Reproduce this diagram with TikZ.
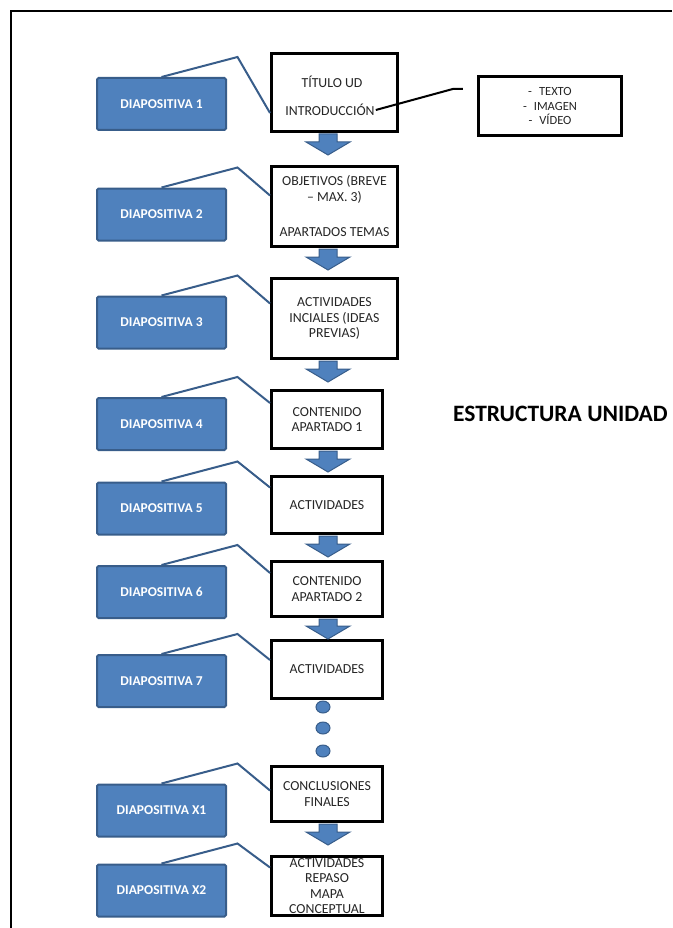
\documentclass[tikz,border=0pt]{standalone}
\usepackage{fontspec}
\setmainfont{Carlito}
\usepackage{tikz}
\usetikzlibrary{positioning,calc}

\definecolor{azul}{HTML}{4F81BD}
\definecolor{azulosc}{HTML}{385D8A}

\tikzset{
	diapo/.style={draw=azulosc, line width=2pt, fill=azul, rounded corners=1.5pt,
		minimum width=129pt, minimum height=52pt, text=white,
		font=\fontsize{13.5}{16}\selectfont\bfseries},
	caja/.style={draw=black, line width=3pt, fill=white, align=center, inner sep=0pt,
		text=black!85, font=\fontsize{13.8}{15.5}\selectfont},
	texto/.style={inner sep=1pt, text=black!85, font=\fontsize{13.8}{15.5}\selectfont},
	bloque/.style={fill=azul, draw=azulosc, line width=1pt},
	llamada/.style={draw=azulosc, line width=2pt},
}

% flecha de bloque entre dos cajas
\newcommand{\flecha}[2]{%
	\path[bloque] let \p1=(#1.south), \p2=(#2.north), \n1={max(\y1-22pt,\y2)} in
		(319pt,\y1-1pt) -- (319pt,\n1*1pt+13pt) -- (306pt,\n1*1pt+13pt)
		-- (328pt,\n1*1pt) -- (350pt,\n1*1pt+13pt) -- (337pt,\n1*1pt+13pt)
		-- (337pt,\y1-1pt) -- cycle;}

\begin{document}
\begin{tikzpicture}[x=1pt,y=-1pt]
	\useasboundingbox (0,0) rectangle (672,928);
	\draw[line width=2.5pt] (672,11) -- (11,11) -- (11,928);

	% cajas de la derecha
	\node[caja, minimum width=126pt, minimum height=78pt] (w1) at (334.5,92.5) {};
	\node[texto] (tit) at (332,82) {TÍTULO UD};
	\node[texto] (intro) at (330,110) {INTRODUCCIÓN};
	\node[caja, minimum width=126pt, minimum height=80pt] (w2) at (334.5,206.5)
		{OBJETIVOS (BREVE\\– MAX. 3)\\[20pt]APARTADOS TEMAS};
	\node[caja, minimum width=126pt, minimum height=80pt] (w3) at (334.5,318.5)
		{ACTIVIDADES\\INCIALES (IDEAS\\PREVIAS)};
	\node[caja, minimum width=111pt, minimum height=58pt] (w4) at (327,419.5) {CONTENIDO\\APARTADO 1};
	\node[caja, minimum width=111pt, minimum height=57pt] (w5) at (327,505) {ACTIVIDADES};
	\node[caja, minimum width=111pt, minimum height=55pt] (w6) at (327,589) {CONTENIDO\\APARTADO 2};
	\node[caja, minimum width=111pt, minimum height=58pt] (w7) at (327,669.5) {ACTIVIDADES};
	\node[caja, minimum width=111pt, minimum height=55pt] (wX1) at (327,794) {CONCLUSIONES\\FINALES};
	\node[caja, minimum width=111pt, minimum height=59pt] (wX2) at (327,886)
		{ACTIVIDADES\\REPASO\\MAPA\\CONCEPTUAL};

	\node[caja, font=\fontsize{12.5}{14.5}\selectfont, minimum width=143pt, minimum height=59pt]
		(tx) at (550,106) {-\hspace{7pt}TEXTO\\-\hspace{7pt}IMAGEN\\-\hspace{7pt}VÍDEO};
	\draw[line width=2pt] (intro.east) -- ++(77,-21) -- ++(10,0);

	% diapositivas
	\foreach \i/\y in {1/104,2/214.5,3/322.5,4/424,5/508.5,6/592,7/681,X1/810.5,X2/890.5}
		\node[diapo] (d\i) at (161.5,\y) {DIAPOSITIVA \i};
	\foreach \i/\dy in {1/36,2/8,3/8,4/6,5/6,6/8,7/6,X1/7,X2/4}
		\draw[llamada] (d\i.north) -- ++(76,-20) -- ($(d\i.north -| w\i.west)+(0,\dy)$);

	% flechas
	\foreach \a/\b in {w1/w2,w2/w3,w3/w4,w4/w5,w5/w6,w6/w7,wX1/wX2}
		\flecha{\a}{\b};
	\foreach \y in {707,728,751}
		\draw[bloque] (323,\y) ellipse (7pt and 6pt);

	\node[anchor=west, inner sep=0pt, font=\fontsize{23.5}{26}\selectfont\bfseries]
		(titulo) at (453,414) {ESTRUCTURA UNIDAD};
\end{tikzpicture}
\end{document}
